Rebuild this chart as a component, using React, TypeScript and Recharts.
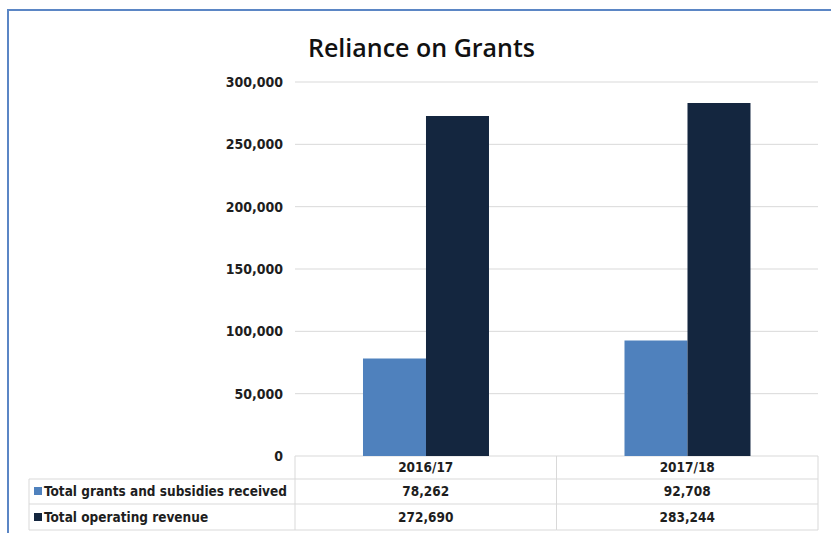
import { Bar, BarChart, CartesianGrid, XAxis, YAxis } from "recharts";

const categories = ["2016/17", "2017/18"];
const grants = [78262, 92708];
const revenue = [272690, 283244];
const yTicks = [0, 50000, 100000, 150000, 200000, 250000, 300000];

const seriesNames = ["Total grants and subsidies received", "Total operating revenue"];
const seriesColors = ["#4f81bd", "#14263f"];

const data = categories.map((c, i) => ({ name: c, grants: grants[i], revenue: revenue[i] }));

const W = 831;
const H = 533;
const margin = { top: 82, right: 13, bottom: 0, left: 0 };
const xAxisHeight = 77;
const yAxisWidth = 295;
const band = (W - margin.right - yAxisWidth) / categories.length;
const font = "'DejaVu Sans Condensed', 'DejaVu Sans', sans-serif";
const fmt = (v: number) => v.toLocaleString("en-US");
const lineColor = "#d9d9d9";
const rows = [23, 48, 74];

function TableTick(props: any) {
  const { x, y, payload } = props;
  const i = payload.index;
  const x0 = x - band / 2;
  const x1 = x + band / 2;
  const values = [grants[i], revenue[i]];
  return (
    <g fontFamily={font} fontWeight="bold" fontSize={13.5} fill="#1e1e1e">
      <line x1={x0} x2={x0} y1={y} y2={y + rows[2]} stroke={lineColor} />
      <line x1={x1} x2={x1} y1={y} y2={y + rows[2]} stroke={lineColor} />
      {rows.map((r) => (
        <line key={r} x1={x0} x2={x1} y1={y + r} y2={y + r} stroke={lineColor} />
      ))}
      <text x={x} y={y + 16} textAnchor="middle">{categories[i]}</text>
      {values.map((v, k) => (
        <text key={k} x={x} y={y + 40 + k * 26} textAnchor="middle">{fmt(v)}</text>
      ))}
      {i === 0 && (
        <g>
          <line x1={29} x2={29} y1={y + rows[0]} y2={y + rows[2]} stroke={lineColor} />
          {rows.map((r) => (
            <line key={r} x1={29} x2={x0} y1={y + r} y2={y + r} stroke={lineColor} />
          ))}
          {seriesNames.map((s, k) => (
            <g key={s}>
              <rect x={34} y={y + 31 + k * 26} width={8} height={8} fill={seriesColors[k]} />
              <text x={44} y={y + 40 + k * 26}>{s}</text>
            </g>
          ))}
        </g>
      )}
    </g>
  );
}

export default function App() {
  return (
    <div style={{ position: "absolute", left: 0, top: 0, width: W, height: H, background: "#fff", overflow: "hidden" }}>
      <div
        style={{
          position: "absolute",
          left: 7,
          top: 9,
          width: W + 20,
          height: H + 20,
          borderLeft: "2px solid #5b86c5",
          borderTop: "2px solid #5b86c5",
        }}
      />
      <div
        style={{
          position: "absolute",
          left: 0,
          width: W,
          top: 30,
          textAlign: "center",
          paddingLeft: 12,
          fontFamily: "'Open Sans', sans-serif",
          fontWeight: 600,
          fontSize: 25,
          color: "#111",
          boxSizing: "border-box",
        }}
      >
        Reliance on Grants
      </div>
      <BarChart
        width={W}
        height={H}
        data={data}
        margin={margin}
        barCategoryGap="26%"
        barGap={0}
        style={{ position: "absolute", left: 0, top: 0 }}
      >
        <CartesianGrid vertical={false} stroke={lineColor} />
        <XAxis
          dataKey="name"
          axisLine={false}
          tickLine={false}
          tickSize={0}
          tickMargin={0}
          height={xAxisHeight}
          tick={<TableTick />}
          interval={0}
        />
        <YAxis
          width={yAxisWidth}
          domain={[0, 300000]}
          ticks={yTicks}
          axisLine={false}
          tickLine={false}
          tickMargin={6}
          tickFormatter={fmt}
          tick={{ fontFamily: font, fontWeight: "bold", fontSize: 14, fill: "#1e1e1e" }}
        />
        <Bar dataKey="grants" fill={seriesColors[0]} isAnimationActive={false} />
        <Bar dataKey="revenue" fill={seriesColors[1]} isAnimationActive={false} />
      </BarChart>
    </div>
  );
}
